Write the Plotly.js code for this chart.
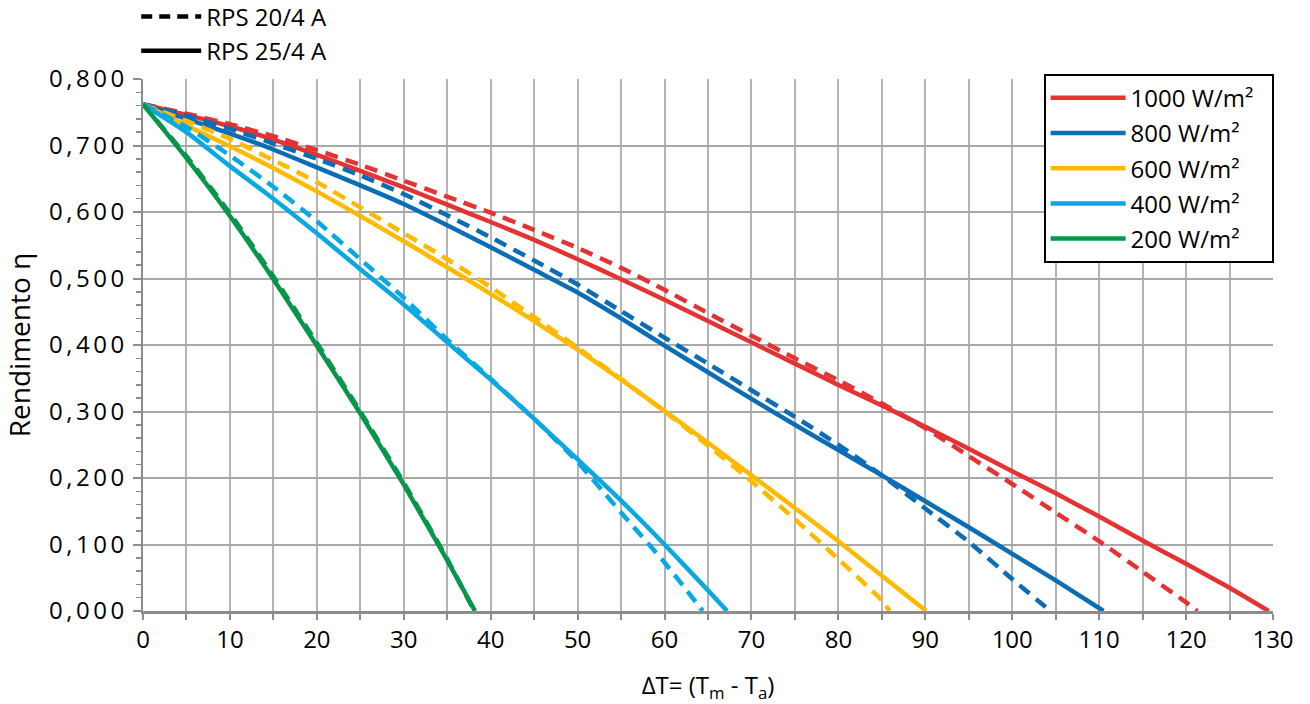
<!DOCTYPE html>
<html>
<head>
<meta charset="utf-8">
<script src="https://cdn.plot.ly/plotly-3.0.1.min.js"></script>
<style>
html,body{margin:0;padding:0;background:#fff;}
#chart{width:1310px;height:704px;}
#chart .ytick text{letter-spacing:3.5px;}
</style>
</head>
<body>
<div id="chart"></div>
<script>
// ---- Data ----
const seriesNames = ["1000 W/m²", "800 W/m²", "600 W/m²", "400 W/m²", "200 W/m²"];
const modelNames = ["RPS 20/4 A", "RPS 25/4 A"];

// RPS 25/4 A (solid lines)
const dT_25_1000 = [0,5,10,15,20,25,30,35,40,45,50,55,60,65,70,75,80,85,90,95,100,105,110,115,120,125,129.5];
const eta_25_1000 = [0.762,0.746,0.729,0.709,0.686,0.662,0.637,0.611,0.585,0.558,0.529,0.499,0.468,0.436,0.404,0.372,0.340,0.309,0.277,0.244,0.210,0.177,0.142,0.106,0.071,0.035,0.000];
const dT_25_800 = [0,5,10,15,20,25,30,35,40,45,50,55,60,65,70,75,80,85,90,95,100,105,110.5];
const eta_25_800 = [0.762,0.740,0.718,0.694,0.667,0.640,0.612,0.580,0.547,0.513,0.479,0.440,0.399,0.359,0.319,0.280,0.242,0.204,0.165,0.126,0.086,0.046,0.000];
const dT_25_600 = [0,5,10,15,20,25,30,35,40,45,50,55,60,65,70,75,80,85,90.1];
const eta_25_600 = [0.762,0.730,0.699,0.666,0.631,0.594,0.556,0.517,0.477,0.436,0.393,0.348,0.301,0.253,0.204,0.155,0.105,0.053,0.000];
const dT_25_400 = [0,5,10,15,20,25,30,35,40,45,50,55,60,65,67.2];
const eta_25_400 = [0.762,0.720,0.669,0.620,0.568,0.514,0.461,0.404,0.348,0.289,0.228,0.166,0.100,0.031,0.000];
const dT_25_200 = [0,5,10,15,20,25,30,35,38.2];
const eta_25_200 = [0.762,0.681,0.594,0.499,0.399,0.297,0.190,0.076,0.000];

// RPS 20/4 A (dashed lines)
const dT_20_1000 = [0,5,10,15,20,25,30,35,40,45,50,55,60,65,70,75,80,85,90,95,100,105,110,115,120,121.3];
const eta_20_1000 = [0.762,0.748,0.732,0.714,0.693,0.671,0.647,0.623,0.599,0.573,0.546,0.516,0.483,0.448,0.414,0.380,0.347,0.312,0.275,0.233,0.191,0.148,0.105,0.059,0.013,0.000];
const dT_20_800 = [0,5,10,15,20,25,30,35,40,45,50,55,60,65,70,75,80,85,90,95,100,104.4];
const eta_20_800 = [0.762,0.745,0.725,0.703,0.680,0.655,0.627,0.595,0.562,0.527,0.491,0.451,0.411,0.372,0.332,0.292,0.250,0.204,0.154,0.104,0.048,0.000];
const dT_20_600 = [0,5,10,15,20,25,30,35,40,45,50,55,60,65,70,75,80,85,85.9];
const eta_20_600 = [0.762,0.737,0.710,0.678,0.645,0.607,0.568,0.529,0.487,0.442,0.396,0.349,0.300,0.249,0.195,0.138,0.078,0.016,0.000];
const dT_20_400 = [0,5,10,15,20,25,30,35,40,45,50,55,60,64.4];
const eta_20_400 = [0.762,0.728,0.685,0.638,0.586,0.529,0.471,0.408,0.349,0.289,0.224,0.148,0.073,0.000];
const dT_20_200 = [0,5,10,15,20,25,30,35,38.1];
const eta_20_200 = [0.762,0.684,0.598,0.503,0.403,0.300,0.193,0.078,0.000];

const xTickVals = [0,10,20,30,40,50,60,70,80,90,100,110,120,130];
const yTickVals = [0,0.1,0.2,0.3,0.4,0.5,0.6,0.7,0.8];

// ---- Styles ----
const colors = ["#E53232", "#0A6DB6", "#FDBA00", "#08A8E3", "#07964A"];
const solidX = [dT_25_1000, dT_25_800, dT_25_600, dT_25_400, dT_25_200];
const solidY = [eta_25_1000, eta_25_800, eta_25_600, eta_25_400, eta_25_200];
const dashX = [dT_20_1000, dT_20_800, dT_20_600, dT_20_400, dT_20_200];
const dashY = [eta_20_1000, eta_20_800, eta_20_600, eta_20_400, eta_20_200];

const FONT = "Open Sans, Noto Sans, DejaVu Sans, sans-serif";
const PAD = "\u00A0\u00A0"; // legend box right padding
const traces = [];
for (let i = 0; i < 5; i++) {
  traces.push({
    x: solidX[i], y: solidY[i], type: "scatter", mode: "lines",
    name: seriesNames[i] + PAD, legendgroup: "g" + i, showlegend: true,
    line: {color: colors[i], width: 4.5, shape: "spline", smoothing: 0.5},
    hoverinfo: "skip"
  });
}
for (let i = 0; i < 5; i++) {
  traces.push({
    x: dashX[i], y: dashY[i], type: "scatter", mode: "lines",
    name: seriesNames[i] + " (" + modelNames[0] + ")", legendgroup: "g" + i, showlegend: false,
    line: {color: colors[i], width: 4.5, dash: "13px,8px", shape: "spline", smoothing: 0.5},
    hoverinfo: "skip"
  });
}
// model legend (legend2) entries, no data
traces.push({x: [null], y: [null], type: "scatter", mode: "lines", name: modelNames[0],
  legend: "legend2", legendgroup: "m0", line: {color: "#000", width: 4.5, dash: "11px,7px"}});
traces.push({x: [null], y: [null], type: "scatter", mode: "lines", name: modelNames[1],
  legend: "legend2", legendgroup: "m1", line: {color: "#000", width: 4.5}});

const layout = {
  width: 1310, height: 704,
  margin: {l: 143, r: 37, t: 79, b: 93, pad: 0, autoexpand: false},
  paper_bgcolor: "#fff", plot_bgcolor: "#fff",
  separators: ", ",
  font: {family: FONT, color: "#000", size: 20},
  showlegend: true,
  xaxis: {
    range: [0, 130], tickvals: xTickVals, ticks: "outside", ticklen: 6, tickwidth: 2, tickcolor: "#8c8c8c",
    showgrid: true, gridcolor: "#b4b4b4", gridwidth: 2,
    minor: {dtick: 5, tick0: 0, ticks: "outside", ticklen: 6, tickwidth: 2, tickcolor: "#8c8c8c", showgrid: true, gridcolor: "#b4b4b4", gridwidth: 2},
    showline: true, linecolor: "#8c8c8c", linewidth: 2.5, zeroline: false,
    tickfont: {size: 24, family: FONT}, automargin: false,
    title: {text: "ΔT= (T<sub>m</sub> - T<sub>a</sub>)", font: {size: 24, family: FONT}, standoff: 24}
  },
  yaxis: {
    range: [0, 0.8], tickvals: yTickVals, tickformat: ".3f", ticks: "outside", ticklen: 8, tickwidth: 2, tickcolor: "#8c8c8c",
    showgrid: true, gridcolor: "#a8a8a8", gridwidth: 2,
    minor: {dtick: 0.02, tick0: 0, ticks: "outside", ticklen: 5, tickwidth: 1.5, tickcolor: "#8c8c8c", showgrid: false},
    showline: true, linecolor: "#8c8c8c", linewidth: 2.5, zeroline: false,
    tickfont: {size: 24, family: FONT}, automargin: false,
    title: {text: "Rendimento η", font: {size: 28, family: FONT}, standoff: 30}
  },
  legend: {
    x: 0.797, y: 1.010, xanchor: "left", yanchor: "top",
    bgcolor: "#fff", bordercolor: "#000", borderwidth: 2,
    font: {size: 24, family: FONT}, itemwidth: 75, traceorder: "grouped", tracegroupgap: 1,
    itemclick: false
  },
  legend2: {
    x: -0.006, y: 1.159, xanchor: "left", yanchor: "top",
    bgcolor: "rgba(0,0,0,0)", borderwidth: 0,
    font: {size: 24, family: FONT}, itemwidth: 60, traceorder: "grouped", tracegroupgap: 0
  }
};

Plotly.newPlot("chart", traces, layout, {staticPlot: true, displayModeBar: false});
</script>
</body>
</html>
